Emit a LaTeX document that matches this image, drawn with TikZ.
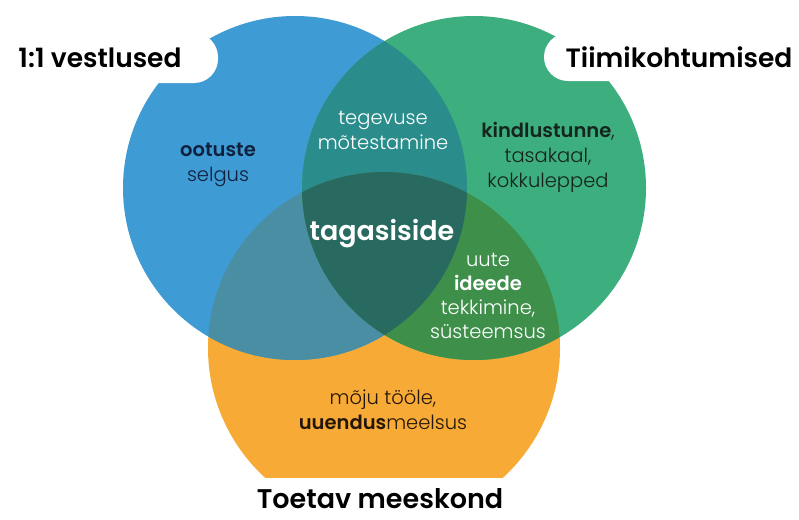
\documentclass[tikz,border=0pt]{standalone}
\usepackage{fontspec}
\setmainfont{Poppins}[UprightFont=* Light, BoldFont=* SemiBold]
\newfontfamily\titlefont{Poppins}[UprightFont=* SemiBold]
\definecolor{bluC}{HTML}{3F9BD4}
\definecolor{grnC}{HTML}{3DAE7D}
\definecolor{orgC}{HTML}{F8AA36}
\definecolor{bgC}{HTML}{2A8D8C}
\definecolor{boC}{HTML}{4A8EA3}
\definecolor{goC}{HTML}{3E8F4A}
\definecolor{triC}{HTML}{286A60}
\definecolor{navyT}{HTML}{10213F}
\definecolor{darkT}{HTML}{15241C}
\definecolor{brownT}{HTML}{24170A}
\begin{document}
\begin{tikzpicture}[x=1pt,y=-1pt,
  title/.style={font=\titlefont\fontsize{26.5}{30}\selectfont, text=black, inner sep=0pt},
  body/.style={font=\fontsize{19.5}{25}\selectfont, align=center, inner sep=0pt},
  lbox/.style={fill=white, rounded corners=24pt}]
\useasboundingbox (0,0) rectangle (799,519);
\fill[white] (0,0) rectangle (799,519);
\coordinate (cb) at (295,188);
\coordinate (cg) at (474,188);
\coordinate (co) at (384,348);
% single circles
\begin{scope}
  \clip (0,0) rectangle (799,477);
  \fill[orgC] (co) circle (176pt);
\end{scope}
\fill[bluC] (cb) circle (172pt);
\fill[grnC] (cg) circle (172pt);
% pairwise overlaps
\begin{scope}
  \clip (cb) circle (172pt);
  \fill[bgC] (cg) circle (172pt);
\end{scope}
\begin{scope}
  \clip (cb) circle (172pt);
  \fill[boC] (co) circle (176pt);
\end{scope}
\begin{scope}
  \clip (cg) circle (172pt);
  \fill[goC] (co) circle (176pt);
\end{scope}
% triple overlap
\begin{scope}
  \clip (cb) circle (172pt);
  \clip (cg) circle (172pt);
  \fill[triC] (co) circle (176pt);
\end{scope}
% white label cut-outs
\fill[lbox] (-40,33) rectangle (218,83);
\fill[lbox] (544,33) rectangle (840,81);
% titles
\node[title, anchor=base] (t1) at (100,67) {1:1 vestlused};
\node[title, anchor=base] (t2) at (679,67) {Tiimikohtumised};
\node[title, anchor=base, font=\titlefont\fontsize{27}{30}\selectfont] (t3) at (380,508) {Toetav meeskond};
% region texts
\node[body, text=navyT] (a) at (218,165) {\textbf{ootuste}\\selgus};
\node[body, text=white] (b) at (383,130) {tegevuse\\mõtestamine};
\node[body, text=darkT] (c) at (548,157) {\textbf{kindlustunne},\\tasakaal,\\kokkulepped};
\node[font=\bfseries\fontsize{27}{30}\selectfont, text=white, inner sep=0pt] (d) at (382,234) {tagasiside};
\node[body, text=white, font=\fontsize{19.5}{24}\selectfont] (e) at (488,296) {uute\\\textbf{ideede}\\tekkimine,\\süsteemsus};
\node[body, text=brownT] (f) at (383,410) {mõju tööle,\\\textbf{uuendus}meelsus};
\end{tikzpicture}
\end{document}
